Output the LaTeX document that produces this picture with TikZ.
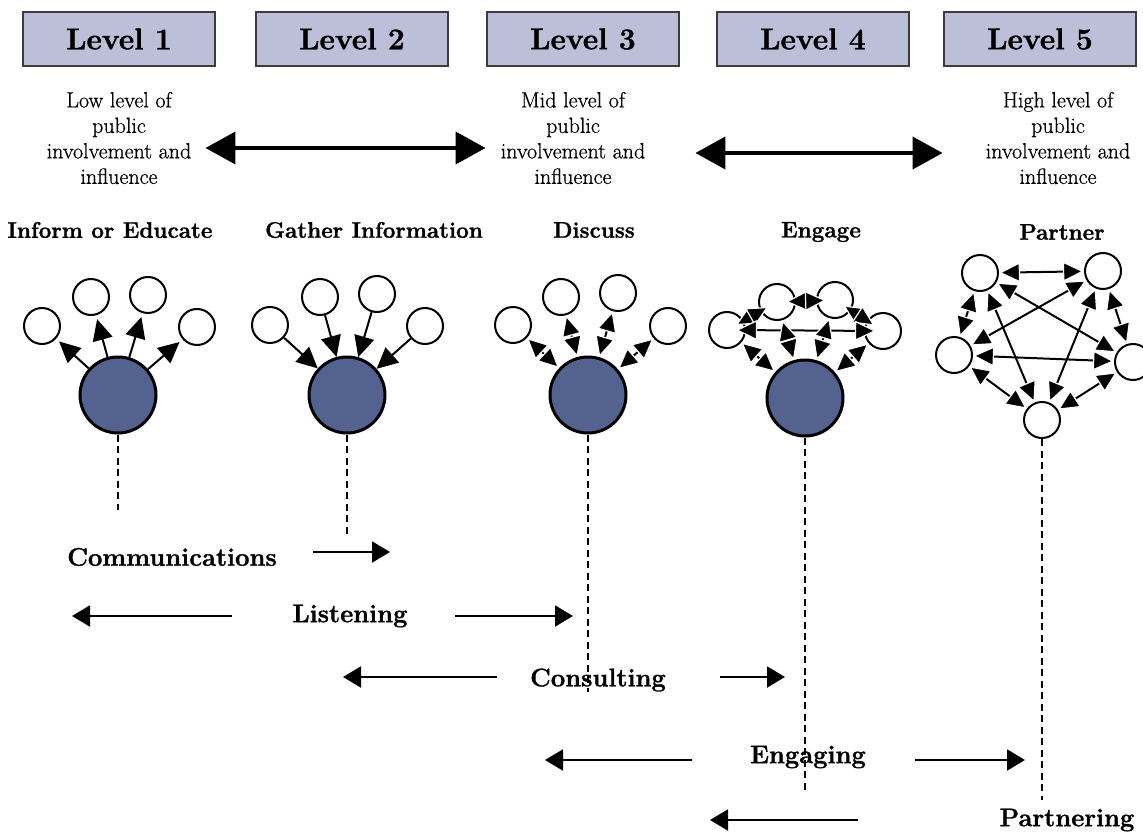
\documentclass[tikz,border=0pt]{standalone}
\usepackage{fontspec}
\setmainfont{Latin Modern Roman}[
  UprightFeatures={FakeBold=0.7},
  BoldFeatures={FakeBold=1.2}]
\usetikzlibrary{arrows.meta}
\definecolor{lvlfill}{RGB}{189,191,217}
\definecolor{lvlline}{RGB}{60,60,60}
\definecolor{hubfill}{RGB}{84,98,143}
\begin{document}
\begin{tikzpicture}[x=1pt,y=-1pt,
  levelbox/.style={draw=lvlline, line width=1.8pt, fill=lvlfill,
    minimum width=192pt, minimum height=54pt, inner sep=0pt,
    font=\fontsize{30}{36}\selectfont\bfseries},
  desc/.style={align=center, inner sep=0pt,
    font=\fontsize{22}{25.5}\selectfont},
  head/.style={inner sep=0pt, font=\fontsize{22.5}{27}\selectfont\bfseries},
  mode/.style={inner sep=0pt, font=\fontsize{25.5}{30}\selectfont\bfseries},
  hub/.style={circle, draw=black, line width=3pt, fill=hubfill,
    minimum size=76pt, inner sep=0pt},
  member/.style={circle, draw=black, line width=2pt, fill=white,
    minimum size=36pt, inner sep=0pt},
  levelarrow/.style={line width=4pt,
    {Triangle[length=30pt,width=32pt]}-{Triangle[length=30pt,width=32pt]}},
  oneway/.style={line width=2pt, -{Triangle[length=21pt,width=20pt]}},
  twoway/.style={line width=2pt,
    {Triangle[length=21pt,width=20pt,color=white,fill=black,line width=1.2pt]}-%
    {Triangle[length=21pt,width=20pt,color=white,fill=black,line width=1.2pt]}},
  flow/.style={line width=2pt, -{Triangle[length=18pt,width=21pt]}},
  dotline/.style={line width=2.4pt, dash pattern=on 7pt off 4.5pt}]

\useasboundingbox (0,0) rectangle (1143,832);
\clip (0,0) rectangle (1143,832);

% level headers
\node[levelbox] (L1) at (119,39) {Level 1};
\node[levelbox] (L2) at (352,39) {Level 2};
\node[levelbox] (L3) at (583,39) {Level 3};
\node[levelbox] (L4) at (813,39) {Level 4};
\node[levelbox] (L5) at (1040,39) {Level 5};

% degree of involvement
\node[desc] (low)  at (119,138) {Low level of\\public\\involvement and\\influence};
\node[desc] (mid)  at (573,138) {Mid level of\\public\\involvement and\\influence};
\node[desc] (high) at (1058,138) {High level of\\public\\involvement and\\influence};
\draw[levelarrow, shorten <=14pt, shorten >=15pt]
  ([yshift=-10pt]low.east) -- ([yshift=-10pt]mid.west);
\draw[levelarrow, shorten <=50pt, shorten >=43pt]
  ([yshift=-15pt]mid.east) -- ([yshift=-15pt]high.west);

% activity titles
\node[head] (h1) at (110,230) {Inform or Educate};
\node[head] (h2) at (374,230) {Gather Information};
\node[head] (h3) at (594,230) {Discuss};
\node[head] (h4) at (821,232) {Engage};
\node[head] (h5) at (1062,232) {Partner};

% inform or educate: one-way outward
\node[hub] (B1) at (118,395) {};
\node[member] (a1) at (42,326) {};
\node[member] (a2) at (91,297) {};
\node[member] (a3) at (148,295) {};
\node[member] (a4) at (197,327) {};
\foreach \m in {a1,a2,a3,a4}
  \draw[oneway, shorten >=4pt] (B1) -- (\m);

% gather information: one-way inward
\node[hub] (B2) at (347,395) {};
\node[member] (b1) at (270,325) {};
\node[member] (b2) at (320,297) {};
\node[member] (b3) at (377,294) {};
\node[member] (b4) at (425,326) {};
\foreach \m in {b1,b2,b3,b4}
  \draw[oneway] (\m) -- (B2);

% discuss: two-way with the hub
\node[hub] (B3) at (588,395) {};
\node[member] (c1) at (513,325) {};
\node[member] (c2) at (561,297) {};
\node[member] (c3) at (618,293) {};
\node[member] (c4) at (668,326) {};
\foreach \m in {c1,c2,c3,c4}
  \draw[twoway] (B3) -- (\m);

% engage: two-way with the hub and among members
\node[hub] (B4) at (805,398) {};
\node[member] (e1) at (727,330) {};
\node[member] (e2) at (777,302) {};
\node[member] (e3) at (835,300) {};
\node[member] (e4) at (883,331) {};
\draw[twoway, shorten <=-9pt, shorten >=-9pt] (e1) -- (e2);
\draw[twoway, shorten <=-10pt, shorten >=-10pt] (e2) -- (e3);
\draw[twoway, shorten <=-9pt, shorten >=-9pt] (e3) -- (e4);
\draw[twoway, shorten <=-10pt, shorten >=-12pt] (e1) -- (e4);
\foreach \m in {e1,e2,e3,e4}
  \draw[twoway] (B4) -- (\m);

% partner: every member linked to every other
\node[member] (p1) at (980,273) {};
\node[member] (p2) at (1103,271) {};
\node[member] (p3) at (954,355) {};
\node[member] (p4) at (1133,362) {};
\node[member] (p5) at (1042,420) {};
\foreach \u/\v in {p1/p2,p1/p3,p1/p4,p1/p5,p2/p3,p2/p4,p2/p5,p3/p4,p3/p5,p4/p5}
  \draw[twoway] (\u) -- (\v);

% guide lines down to the modes
\coordinate (d1) at (118,510);
\coordinate (d2) at (347,535);
\coordinate (d3) at (588,692);
\coordinate (d4) at (805,790);
\coordinate (d5) at (1042,800);
\draw[dotline] (B1.south) -- (d1);
\draw[dotline] (B2.south) -- (d2);
\draw[dotline] (B3.south) -- (d3);
\draw[dotline] (B4.south) -- (d4);
\draw[dotline] (p5.south) -- (d5);

% modes of involvement
\node[mode] (comm) at (172,557) {Communications};
\node[mode] (listen) at (350,616) {Listening};
\node[mode] (consult) at (598,680) {Consulting};
\node[mode] (engaging) at (808,757) {Engaging};
\node[mode] (partnering) at (1067,820) {Partnering};

\coordinate (c1s) at (313,552);  \coordinate (c1e) at (390,552);
\coordinate (l1s) at (232,616);  \coordinate (l1e) at (72,616);
\coordinate (l2s) at (455,616);  \coordinate (l2e) at (573,616);
\coordinate (k1s) at (497,677);  \coordinate (k1e) at (343,677);
\coordinate (k2s) at (720,677);  \coordinate (k2e) at (785,677);
\coordinate (g1s) at (692,760);  \coordinate (g1e) at (545,760);
\coordinate (g2s) at (915,760);  \coordinate (g2e) at (1025,760);
\coordinate (r1s) at (858,820);  \coordinate (r1e) at (710,820);
\draw[flow] (c1s) -- (c1e);
\draw[flow] (l1s) -- (l1e);
\draw[flow] (l2s) -- (l2e);
\draw[flow] (k1s) -- (k1e);
\draw[flow] (k2s) -- (k2e);
\draw[flow] (g1s) -- (g1e);
\draw[flow] (g2s) -- (g2e);
\draw[flow] (r1s) -- (r1e);
\end{tikzpicture}
\end{document}
